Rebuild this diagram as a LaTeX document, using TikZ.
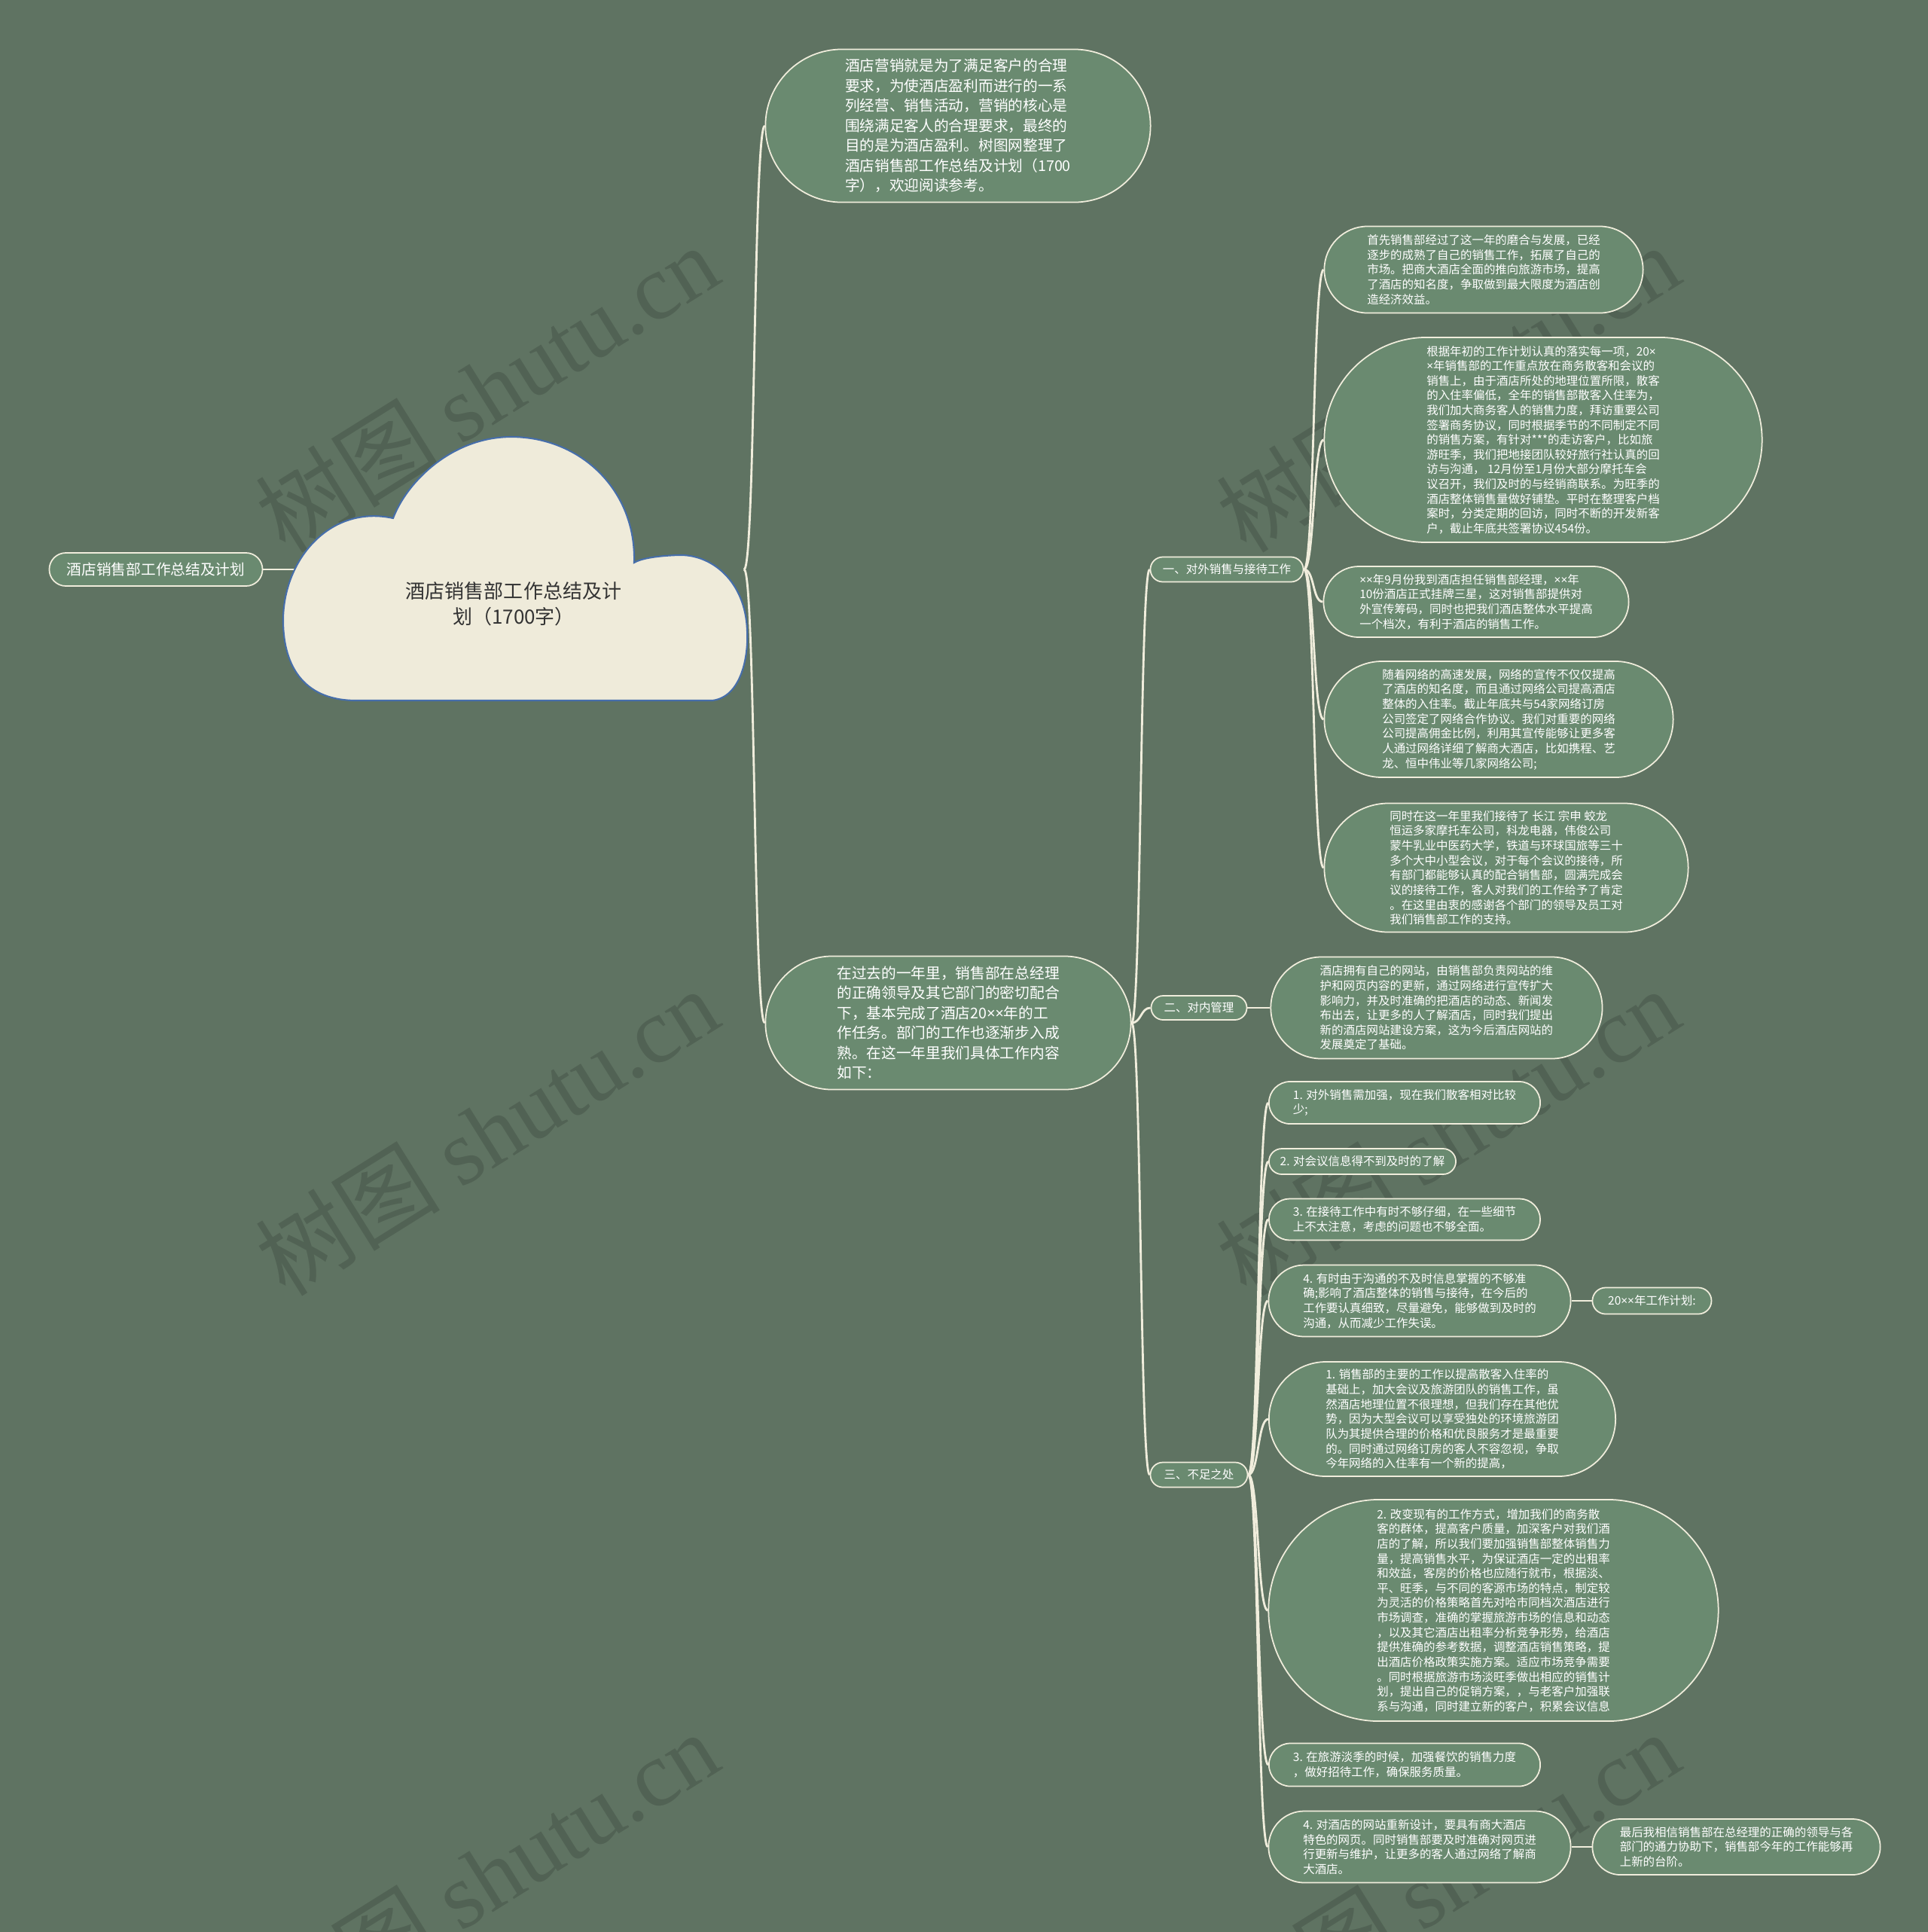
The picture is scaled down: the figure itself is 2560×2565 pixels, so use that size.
\documentclass[tikz,border=0pt]{standalone}
\usepackage{fontspec}
\setmainfont{Noto Sans CJK SC}
\newfontfamily\wmlatin{Liberation Serif}
\newfontfamily\lat{Noto Sans}
\newcommand\tms{{\lat ×}}
\usetikzlibrary{shapes.misc,positioning}
\definecolor{bgc}{RGB}{95,115,98}
\definecolor{nodec}{RGB}{106,138,112}
\definecolor{linec}{RGB}{240,237,220}
\definecolor{cloudc}{RGB}{239,235,218}
\definecolor{cloudline}{RGB}{70,110,170}

\begin{document}
\begin{tikzpicture}[x=0.01cm,y=-0.01cm,
    topic/.style={rounded rectangle,draw=linec,line width=0.5pt,fill=nodec,text=white,align=left,inner sep=0pt,font=\fontsize{5.6}{7.55}\selectfont},
    leaf/.style={topic,font=\fontsize{4.4}{5.58}\selectfont},
    link/.style={draw=linec,line width=0.8pt},
    curly/.style={to path={.. controls +(#1,0) and +(-#1,0) .. (\tikztotarget)}},
    wm/.style={rotate=32,text=black,text opacity=0.14,font=\fontsize{35}{35}\selectfont}]

	\fill[bgc] (0,0) rectangle (2560,2565);
	\useasboundingbox (0,0) rectangle (2560,2565);

	% watermarks
	\foreach \wx in {646,1922}
	  \foreach \wy in {515,1502,2489}
	    \node[wm] (wm-\wx-\wy) at (\wx,\wy) {树图 {\wmlatin shutu.cn}};

	% root cloud
	\coordinate (rootL) at (392,756);
	\coordinate (rootR) at (988,756);
	\node[topic] (left) at (207,756) [minimum width=2.83cm,minimum height=0.44cm] {酒店销售部工作总结及计划};
	\draw[link] (left.east) -- (rootL);
	\filldraw[fill=cloudc,draw=cloudline,line width=0.6pt]
	  (473,930) -- (946,930)
	  .. controls (985,925) and (994,870) .. (992,837)
	  .. controls (990,772) and (945,735) .. (900,737)
	  .. controls (870,738) and (850,742) .. (842,747)
	  .. controls (845,650) and (770,580) .. (679,580)
	  .. controls (600,580) and (540,640) .. (522,688)
	  .. controls (440,670) and (378,740) .. (376,820)
	  .. controls (375,880) and (400,930) .. (473,930) -- cycle;
	\node[font=\fontsize{7.4}{9.8}\selectfont,text=black!80,align=center] (root) at (682,802) {酒店销售部工作总结及计\\划（1700字）};

	% level 1
	\node[topic] (intro) at (1272,167) [minimum width=5.11cm,minimum height=2.03cm] {酒店营销就是为了满足客户的合理\\要求，为使酒店盈利而进行的一系\\列经营、销售活动，营销的核心是\\围绕满足客人的合理要求，最终的\\目的是为酒店盈利。树图网整理了\\酒店销售部工作总结及计划（1700\\字），欢迎阅读参考。};
	\node[topic] (mid) at (1259,1358) [minimum width=4.85cm,minimum height=1.77cm] {在过去的一年里，销售部在总经理\\的正确领导及其它部门的密切配合\\下，基本完成了酒店20\tms\tms 年的工\\作任务。部门的工作也逐渐步入成\\熟。在这一年里我们具体工作内容\\如下：};

	% level 2
	\node[leaf] (b1) at (1629,756) [minimum width=2.03cm,minimum height=0.33cm] {一、对外销售与接待工作};
	\node[leaf] (b2) at (1592,1338) [minimum width=1.27cm,minimum height=0.32cm] {二、对内管理};
	\node[leaf] (b3) at (1592,1958) [minimum width=1.29cm,minimum height=0.33cm] {三、不足之处};

	% under b1
	\node[leaf] (c1) at (1970,358) [minimum width=4.23cm,minimum height=1.15cm] {首先销售部经过了这一年的磨合与发展，已经\\逐步的成熟了自己的销售工作，拓展了自己的\\市场。把商大酒店全面的推向旅游市场，提高\\了酒店的知名度，争取做到最大限度为酒店创\\造经济效益。};
	\node[leaf] (c2) at (2049,584) [minimum width=5.81cm,minimum height=2.72cm] {根据年初的工作计划认真的落实每一项，20\tms\\\tms 年销售部的工作重点放在商务散客和会议的\\销售上，由于酒店所处的地理位置所限，散客\\的入住率偏低，全年的销售部散客入住率为，\\我们加大商务客人的销售力度，拜访重要公司\\签署商务协议，同时根据季节的不同制定不同\\的销售方案，有针对***的走访客户，比如旅\\游旺季，我们把地接团队较好旅行社认真的回\\访与沟通， 12月份至1月份大部分摩托车会\\议召开，我们及时的与经销商联系。为旺季的\\酒店整体销售量做好铺垫。平时在整理客户档\\案时，分类定期的回访，同时不断的开发新客\\户，截止年底共签署协议454份。};
	\node[leaf] (c3) at (1960,799) [minimum width=4.05cm,minimum height=0.94cm] {\tms\tms 年9月份我到酒店担任销售部经理，\tms\tms 年\\10份酒店正式挂牌三星，这对销售部提供对\\外宣传筹码，同时也把我们酒店整体水平提高\\一个档次，有利于酒店的销售工作。};
	\node[leaf] (c4) at (1990,955) [minimum width=4.63cm,minimum height=1.54cm] {随着网络的高速发展，网络的宣传不仅仅提高\\了酒店的知名度，而且通过网络公司提高酒店\\整体的入住率。截止年底共与54家网络订房\\公司签定了网络合作协议。我们对重要的网络\\公司提高佣金比例，利用其宣传能够让更多客\\人通过网络详细了解商大酒店，比如携程、艺\\龙、恒中伟业等几家网络公司;};
	\node[leaf] (c5) at (2000,1152) [minimum width=4.83cm,minimum height=1.71cm] {同时在这一年里我们接待了 长江 宗申 蛟龙\\恒运多家摩托车公司，科龙电器，伟俊公司\\蒙牛乳业中医药大学，铁道与环球国旅等三十\\多个大中小型会议，对于每个会议的接待，所\\有部门都能够认真的配合销售部，圆满完成会\\议的接待工作，客人对我们的工作给予了肯定\\。在这里由衷的感谢各个部门的领导及员工对\\我们销售部工作的支持。};

	% under b2
	\node[leaf] (e1) [right=0.3cm of b2,minimum width=4.40cm,minimum height=1.35cm] {酒店拥有自己的网站，由销售部负责网站的维\\护和网页内容的更新，通过网络进行宣传扩大\\影响力，并及时准确的把酒店的动态、新闻发\\布出去，让更多的人了解酒店，同时我们提出\\新的酒店网站建设方案，这为今后酒店网站的\\发展奠定了基础。};

	% under b3
	\node[leaf] (d1) at (1865,1464) [minimum width=3.60cm,minimum height=0.56cm] {1. 对外销售需加强，现在我们散客相对比较\\少;};
	\node[leaf] (d2) at (1809,1542) [minimum width=2.48cm,minimum height=0.34cm] {2. 对会议信息得不到及时的了解};
	\node[leaf] (d3) at (1865,1619) [minimum width=3.60cm,minimum height=0.55cm] {3. 在接待工作中有时不够仔细，在一些细节\\上不太注意，考虑的问题也不够全面。};
	\node[leaf] (d4) at (1885,1727) [minimum width=4.01cm,minimum height=0.95cm] {4. 有时由于沟通的不及时信息掌握的不够准\\确;影响了酒店整体的销售与接待，在今后的\\工作要认真细致，尽量避免，能够做到及时的\\沟通，从而减少工作失误。};
	\node[leaf] (d4k) [right=0.27cm of d4,minimum width=1.58cm,minimum height=0.35cm] {20\tms\tms 年工作计划:};
	\node[leaf] (d5) at (1915,1884) [minimum width=4.60cm,minimum height=1.52cm] {1. 销售部的主要的工作以提高散客入住率的\\基础上，加大会议及旅游团队的销售工作，虽\\然酒店地理位置不很理想，但我们存在其他优\\势，因为大型会议可以享受独处的环境旅游团\\队为其提供合理的价格和优良服务才是最重要\\的。同时通过网络订房的客人不容忽视，争取\\今年网络的入住率有一个新的提高，};
	\node[leaf] (d6) at (1983,2138) [minimum width=5.97cm,minimum height=2.94cm] {2. 改变现有的工作方式，增加我们的商务散\\客的群体，提高客户质量，加深客户对我们酒\\店的了解，所以我们要加强销售部整体销售力\\量，提高销售水平，为保证酒店一定的出租率\\和效益，客房的价格也应随行就市，根据淡、\\平、旺季，与不同的客源市场的特点，制定较\\为灵活的价格策略首先对哈市同档次酒店进行\\市场调查，准确的掌握旅游市场的信息和动态\\，以及其它酒店出租率分析竞争形势，给酒店\\提供准确的参考数据，调整酒店销售策略，提\\出酒店价格政策实施方案。适应市场竞争需要\\。同时根据旅游市场淡旺季做出相应的销售计\\划，提出自己的促销方案，，与老客户加强联\\系与沟通，同时建立新的客户，积累会议信息};
	\node[leaf] (d7) at (1865,2343) [minimum width=3.60cm,minimum height=0.57cm] {3. 在旅游淡季的时候，加强餐饮的销售力度\\，做好招待工作，确保服务质量。};
	\node[leaf] (d8) at (1885,2452) [minimum width=4.01cm,minimum height=0.95cm] {4. 对酒店的网站重新设计，要具有商大酒店\\特色的网页。同时销售部要及时准确对网页进\\行更新与维护，让更多的客人通过网络了解商\\大酒店。};
	\node[leaf] (d8k) [right=0.27cm of d8,minimum width=3.82cm,minimum height=0.74cm] {最后我相信销售部在总经理的正确的领导与各\\部门的通力协助下，销售部今年的工作能够再\\上新的台阶。};

	\path
	(rootR) edge[link,curly=15] (intro.west)
	(rootR) edge[link,curly=15] (mid.west)
	(mid.east) edge[link,curly=13] (b1.west)
	(mid.east) edge[link,curly=13] (b2.west)
	(mid.east) edge[link,curly=13] (b3.west)
	(b2.east) edge[link] (e1.west)
	(d4.east) edge[link] (d4k.west)
	(d8.east) edge[link] (d8k.west);
	\foreach \k in {c1,c2,c3,c4,c5}
	  \path (b1.east) edge[link,curly=14] (\k.west);
	\foreach \k in {d1,d2,d3,d4,d5,d6,d7,d8}
	  \path (b3.east) edge[link,curly=14] (\k.west);

\end{tikzpicture}
\end{document}
